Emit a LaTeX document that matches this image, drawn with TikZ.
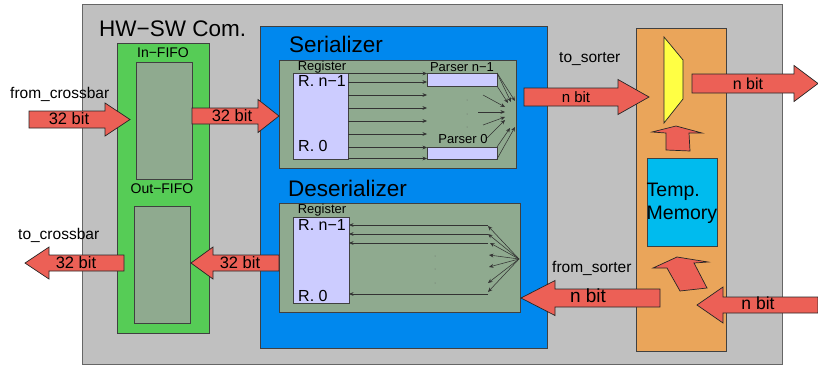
\documentclass[tikz,border=0pt]{standalone}
\usepackage{fontspec}
\setmainfont{Liberation Sans}
\usetikzlibrary{arrows.meta}
\definecolor{hwgray}{RGB}{192,192,192}
\definecolor{fifogreen}{RGB}{86,204,86}
\definecolor{sage}{RGB}{143,170,143}
\definecolor{serblue}{RGB}{0,136,238}
\definecolor{lav}{RGB}{204,204,255}
\definecolor{orng}{RGB}{234,165,90}
\definecolor{fatred}{RGB}{236,96,86}
\definecolor{muxyel}{RGB}{255,255,68}
\definecolor{memcyan}{RGB}{0,187,238}
\newcommand\fatarr[6]{%
  \draw[fat] (#1,{#3-#4}) -- (#6,{#3-#4}) -- (#6,{#3-#5}) -- (#2,#3) -- (#6,{#3+#5}) -- (#6,{#3+#4}) -- (#1,{#3+#4}) -- cycle;}
\begin{document}
\begin{tikzpicture}[x=1pt,y=-1pt,
  box/.style={draw=black!75, line width=0.7pt, inner sep=0pt, outer sep=0pt, anchor=north west},
  fat/.style={draw=black!85, line width=0.7pt, fill=fatred, line join=miter},
  lbl/.style={inner sep=0pt, font=\fontsize{15.5}{16}\selectfont},
  bitlbl/.style={inner sep=0pt, font=\fontsize{16.5}{17}\selectfont},
  ttl/.style={inner sep=0pt, anchor=west, font=\fontsize{22.5}{22.5}\selectfont},
  small/.style={inner sep=0pt, font=\fontsize{13}{13}\selectfont},
  rlbl/.style={inner sep=0pt, anchor=west, font=\fontsize{16}{16}\selectfont},
  sarr/.style={draw=black!80, line width=0.55pt, -{Stealth[length=4.5pt,width=3.8pt]}}]
\useasboundingbox (0,0) rectangle (818,367);

% outer HW-SW box
\node[box, draw=black!60, fill=hwgray, minimum width=700pt, minimum height=360pt] (hw) at (82,4) {};
\node[ttl, font=\fontsize{22.5}{22.5}\selectfont] (hwt) at (99,29) {HW−SW Com.};

% FIFOs
\node[box, fill=fifogreen, minimum width=92pt, minimum height=290pt] (fifo) at (117,43) {};
\node[inner sep=0pt, font=\fontsize{14}{14}\selectfont] (inl) at (163,53) {In−FIFO};
\node[box, fill=sage, minimum width=56pt, minimum height=117pt] (infifo) at (136,62) {};
\node[inner sep=0pt, font=\fontsize{14}{14}\selectfont] (outl) at (162,189) {Out−FIFO};
\node[box, fill=sage, minimum width=56pt, minimum height=117pt] (outfifo) at (134,206) {};

% blue container
\node[box, fill=serblue, minimum width=287pt, minimum height=322pt] (blue) at (260,26) {};

% Serializer
\node[ttl] (sert) at (289,44) {Serializer};
\node[box, fill=sage, minimum width=237pt, minimum height=108pt] (ser) at (279,60) {};
\node[small] (sregl) at (322,67) {Register};
\node[box, fill=lav, minimum width=55pt, minimum height=86pt] (sreg) at (293,73) {};
\node[rlbl] (sr1) at (298,81) {R. n−1};
\node[rlbl] (sr0) at (298,146) {R. 0};
\node[small] (pnl) at (462,67) {Parser n−1};
\node[box, fill=lav, minimum width=70pt, minimum height=13pt] (pn) at (427,73) {};
\node[small] (p0l) at (463,139) {Parser 0};
\node[box, fill=lav, minimum width=70pt, minimum height=12pt] (p0) at (427,147) {};
\foreach \yy in {73.5,82,95,108,121,134,147.5,158.5}
  \draw[sarr] (sreg.east |- 0,\yy) -- (pn.west |- 0,\yy);
\foreach \yy in {100,114,127}
  \fill[black!60] (467,\yy) circle (0.5pt);
% serializer fan
\coordinate (sf1) at (515,101); \coordinate (sf2) at (511,102); \coordinate (sf3) at (508,103);
\draw[sarr] (pn.north east) -- (sf1);
\draw[sarr] (pn.north east) -- (sf2);
\draw[sarr] (pn.south east) -- (sf3);
\coordinate (sm1a) at (483,95); \coordinate (sm1b) at (505,107);
\coordinate (sm2a) at (478,112); \coordinate (sm2b) at (505,112);
\coordinate (sm3a) at (483,125); \coordinate (sm3b) at (505,117);
\draw[sarr] (sm1a) -- (sm1b);
\draw[sarr] (sm2a) -- (sm2b);
\draw[sarr] (sm3a) -- (sm3b);
\coordinate (sl1a) at (487,138); \coordinate (sl1b) at (505,120);
\coordinate (sl2) at (510,128); \coordinate (sl3) at (515,127);
\draw[sarr] (sl1a) -- (sl1b);
\draw[sarr] (p0.north east) -- (sl2);
\draw[sarr] (p0.south east) -- (sl3);

% Deserializer
\node[ttl] (dest) at (288,188) {Deserializer};
\node[box, fill=sage, minimum width=241pt, minimum height=109pt] (des) at (279,203) {};
\node[small] (dregl) at (322,210) {Register};
\node[box, fill=lav, minimum width=56pt, minimum height=86pt] (dreg) at (293,217) {};
\node[rlbl] (dr1) at (298,225) {R. n−1};
\node[rlbl] (dr0) at (298,296) {R. 0};
\foreach \yy [count=\i] in {225,234,243,294} {
  \coordinate (dl\i) at (488,\yy);
  \draw[sarr] (dl\i) -- (dreg.east |- dl\i);
}
\coordinate (dfan) at (519,259);
\foreach \xx/\yy [count=\i] in {488/226,488/234,490/243,489/255,489/267,488/283,488/292} {
  \coordinate (dt\i) at (\xx,\yy);
  \draw[sarr] (dfan) -- (dt\i);
}
\foreach \yy in {256,269,283}
  \fill[black!60] (435,\yy) circle (0.5pt);

% right side
\node[box, fill=orng, minimum width=90pt, minimum height=323pt] (sorter) at (636,28) {};
\draw[draw=black!85, line width=0.7pt, fill=muxyel] (664,37) -- (683,60) -- (683,99) -- (664,123) -- cycle;
\node[box, fill=memcyan, minimum width=70pt, minimum height=88pt] (mem) at (647,158) {};
\node[inner sep=0pt, anchor=west, align=left, font=\fontsize{19.5}{23}\selectfont] (memt) at (646.5,203.5) {Temp.\\Memory};
\draw[fat] (666,150) -- (666,133) -- (652,132) -- (676,126) -- (702,133) -- (689,133) -- (690,151) -- cycle;
\draw[fat] (680,291) -- (667,268) -- (653,268) -- (677,257) -- (708,262) -- (694,263) -- (707,288) -- cycle;

% fat arrows
\fatarr{29}{130}{119.5}{8.5}{16.5}{105}
\fatarr{192}{279}{116}{8}{16.5}{258}
\fatarr{124}{25}{263}{8}{16}{49}
\fatarr{279}{191}{263}{8}{16}{213}
\fatarr{524}{649}{97}{9}{17.5}{618}
\fatarr{692}{818}{83.5}{9.5}{18}{794}
\fatarr{660}{521}{298}{9}{17.5}{555}
\fatarr{818}{697}{305}{8}{18}{723}

% arrow labels
\node[lbl, anchor=west] (fromcb) at (10,94) {from\_crossbar};
\node[bitlbl] (b1) at (69,118.5) {32 bit};
\node[bitlbl] (b2) at (232,116) {32 bit};
\node[lbl, anchor=west] (tocb) at (18,235) {to\_crossbar};
\node[bitlbl] (b3) at (76,263) {32 bit};
\node[bitlbl] (b4) at (240,263) {32 bit};
\node[lbl, anchor=west] (tos) at (559,59) {to\_sorter};
\node[inner sep=0pt, font=\fontsize{15}{15}\selectfont] (n1) at (576,97) {n bit};
\node[inner sep=0pt, font=\fontsize{16}{16}\selectfont] (n2) at (748,84) {n bit};
\node[lbl, anchor=west] (froms) at (552,268) {from\_sorter};
\node[inner sep=0pt, font=\fontsize{19}{19}\selectfont] (n3) at (588,295.5) {n bit};
\node[inner sep=0pt, font=\fontsize{17.5}{17.5}\selectfont] (n4) at (758,303) {n bit};
\end{tikzpicture}
\end{document}
